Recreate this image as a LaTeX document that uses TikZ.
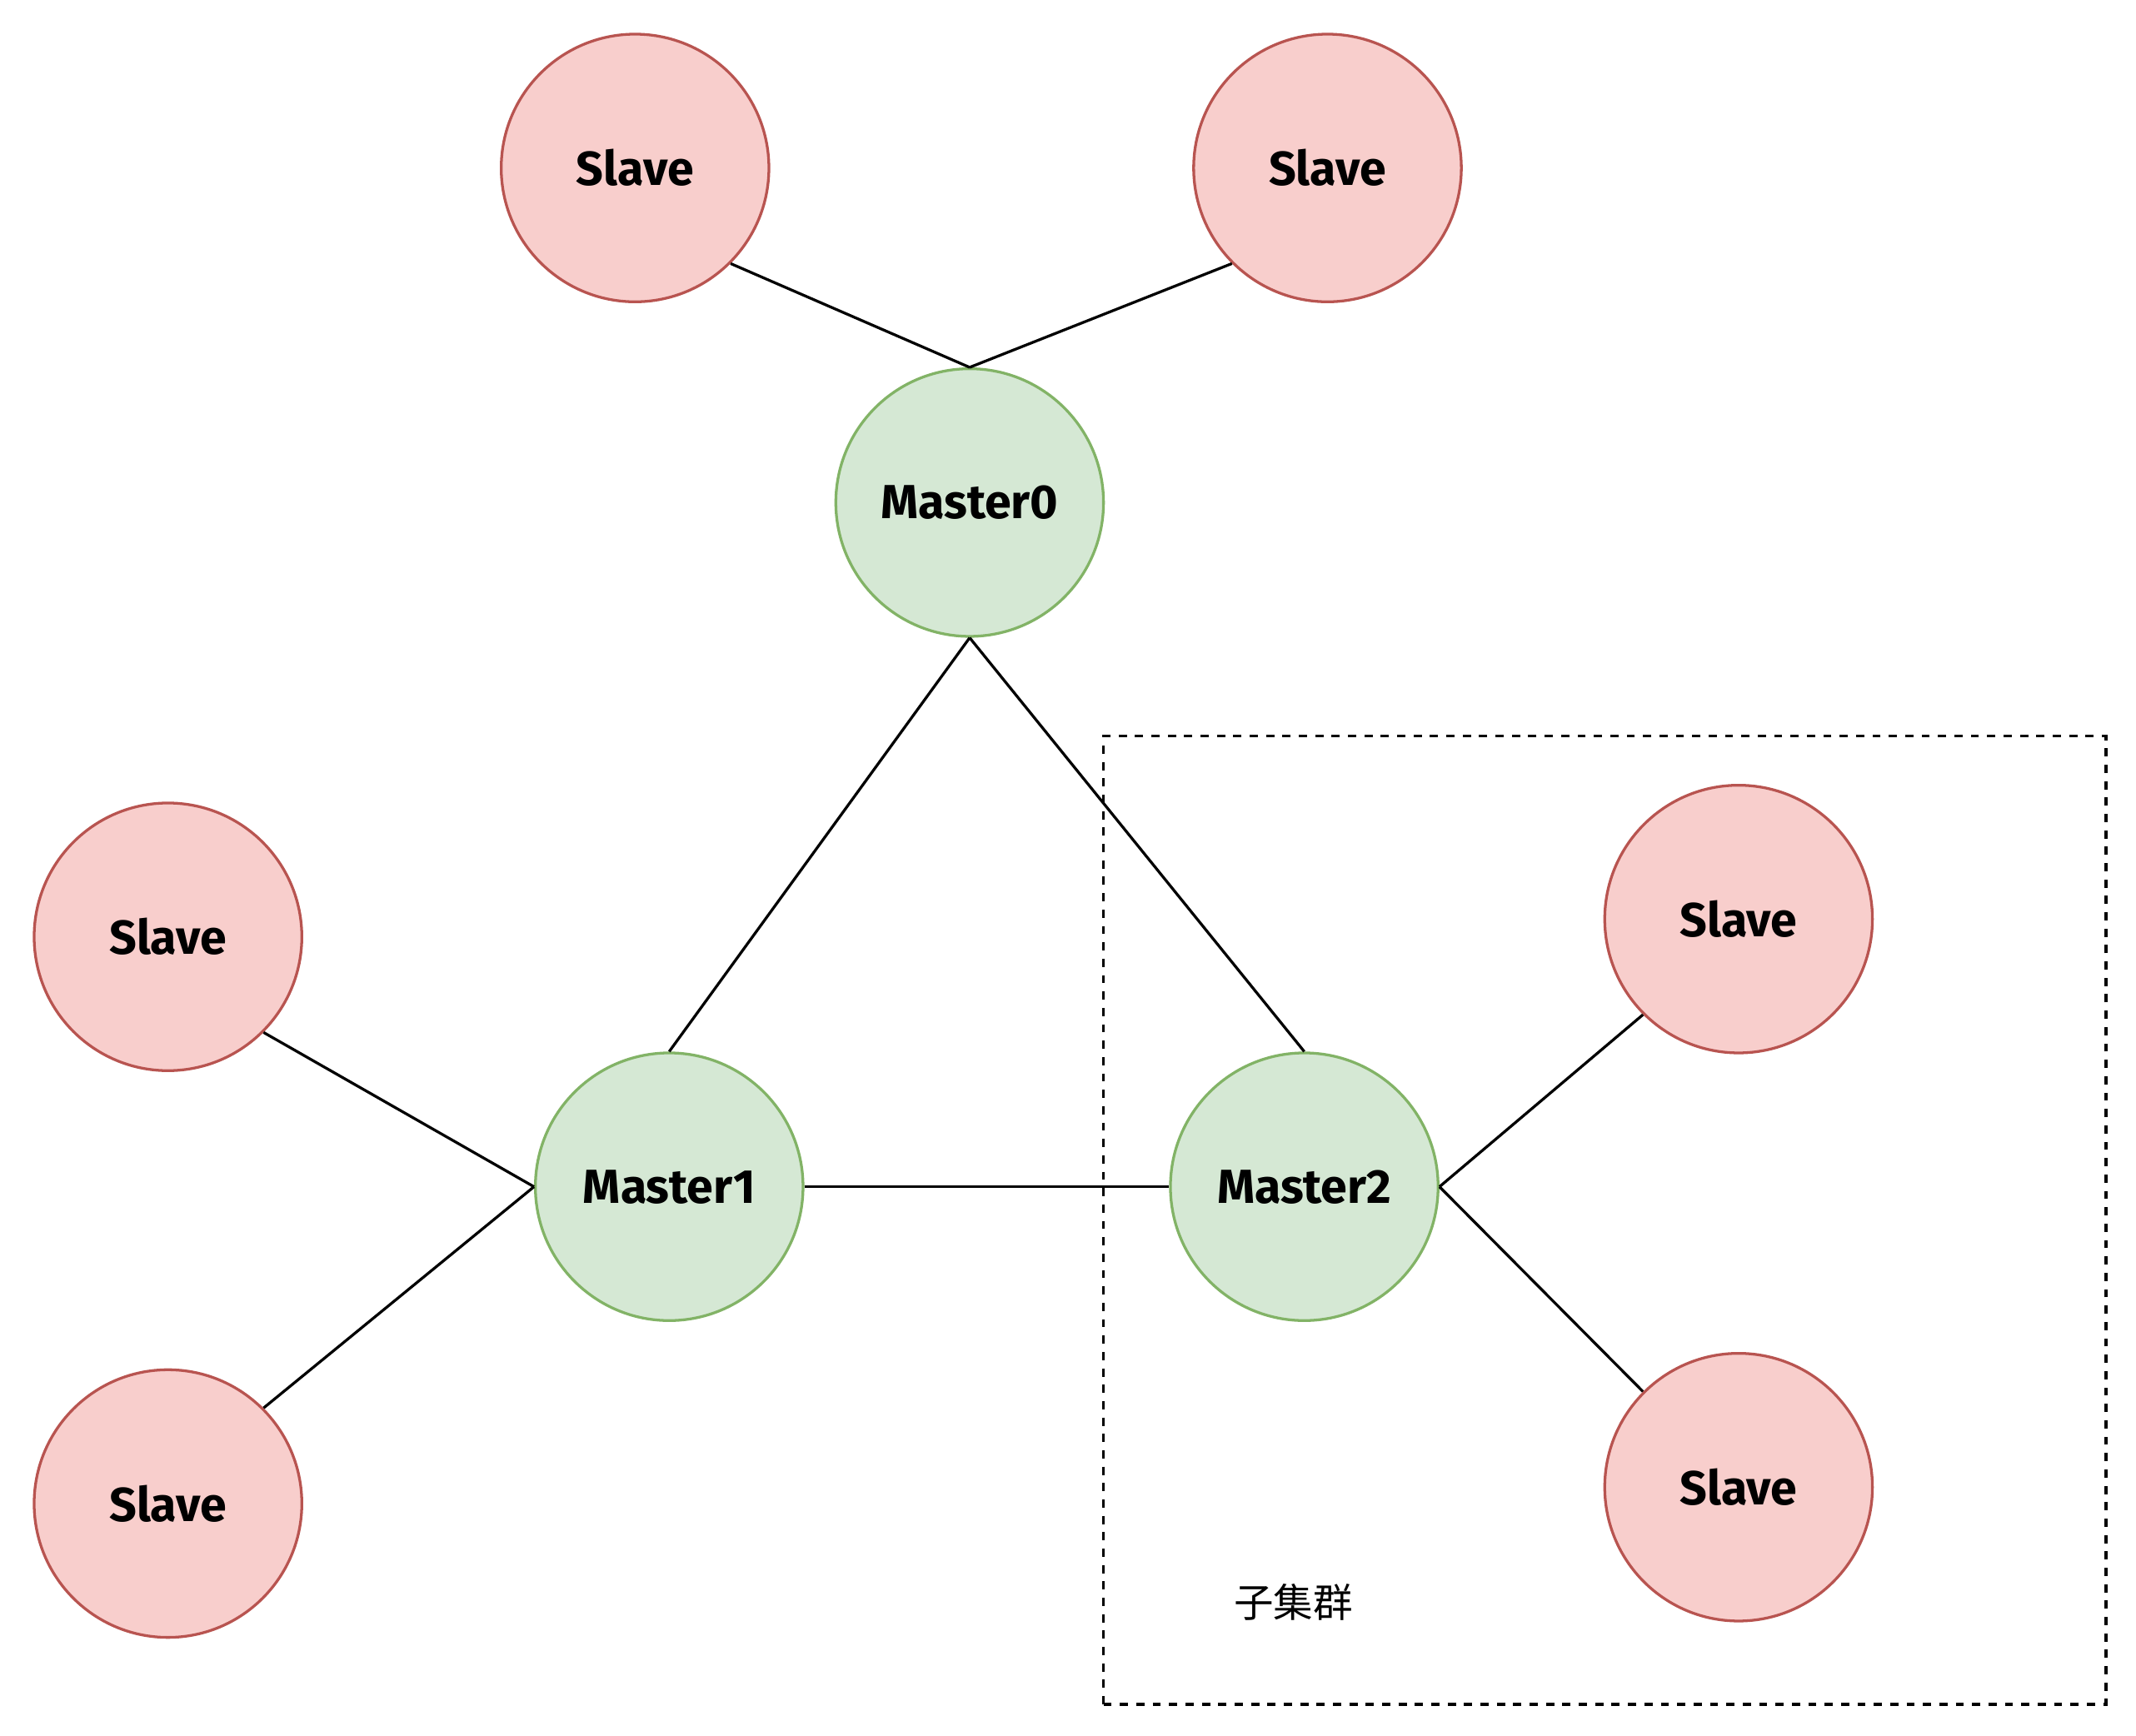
\documentclass[tikz,border=0pt]{standalone}
\usepackage{fontspec}
\setmainfont{Fira Sans}
\newfontfamily\cjk{Noto Sans CJK SC}
\definecolor{redfill}{HTML}{F8CECC}
\definecolor{redline}{HTML}{B85450}
\definecolor{greenfill}{HTML}{D5E8D4}
\definecolor{greenline}{HTML}{82B366}
\begin{document}
\begin{tikzpicture}[x=1pt,y=-1pt,
  slavenode/.style={circle,draw=redline,fill=redfill,line width=2pt,minimum size=196pt,inner sep=0pt,font=\fontsize{35}{40}\selectfont\bfseries},
  masternode/.style={circle,draw=greenline,fill=greenfill,line width=2pt,minimum size=196pt,inner sep=0pt,font=\fontsize{35}{40}\selectfont\bfseries},
  link/.style={draw=black,line width=2pt},
  groupbox/.style={draw=black,line width=2pt,dash pattern=on 6pt off 6pt}]
\useasboundingbox (0,0) rectangle (1564,1271);
\node[groupbox,minimum width=734pt,minimum height=709pt,inner sep=0pt] (box) at (1175,893.5) {};
\node[slavenode] (s1) at (465,123) {Slave};
\node[slavenode] (s2) at (972,123) {Slave};
\node[masternode] (m0) at (710,368) {Master0};
\node[slavenode] (s3) at (123,686) {Slave};
\node[slavenode] (s4) at (123,1101) {Slave};
\node[masternode] (m1) at (490,869) {Master1};
\node[masternode] (m2) at (955,869) {Master2};
\node[slavenode] (s5) at (1273,673) {Slave};
\node[slavenode] (s6) at (1273,1089) {Slave};
\node[font=\cjk\fontsize{29}{34}\selectfont] (lbl) at (947,1173) {子集群};
\draw[link] (s1.-45) -- (m0.north);
\draw[link] (s2.225) -- (m0.north);
\draw[link] (m0.south) -- (m1.north);
\draw[link] (m0.south) -- (m2.north);
\draw[link] (m1.east) -- (m2.west);
\draw[link] (s3.-45) -- (m1.west);
\draw[link] (s4.45) -- (m1.west);
\draw[link] (m2.east) -- (s5.225);
\draw[link] (m2.east) -- (s6.135);
\end{tikzpicture}
\end{document}
